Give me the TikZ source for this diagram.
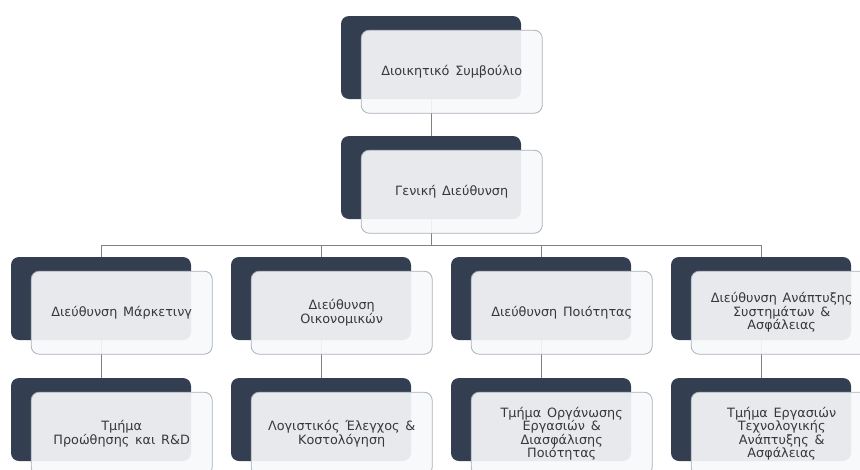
\documentclass[tikz,border=0pt]{standalone}
\usepackage{fontspec}
\setmainfont{DejaVu Sans}
\usepackage{tikz}
\usetikzlibrary{positioning}
\definecolor{navy}{RGB}{51,63,80}
\definecolor{pale}{RGB}{247,248,250}
\definecolor{rim}{RGB}{170,177,189}
\definecolor{ink}{RGB}{56,56,56}
\definecolor{wire}{RGB}{130,130,130}
\newcommand{\cardfont}{\fontsize{12.8}{13.5}\selectfont\spaceskip=0.45em\relax}
\tikzstyle{back}  = [fill=navy, rounded corners=8pt, minimum width=180pt, minimum height=83pt, inner sep=0pt]
\tikzstyle{card}  = [draw=rim, line width=0.8pt, fill=pale, fill opacity=0.92, text opacity=1, text=ink,
                     rounded corners=8pt, minimum width=181pt, minimum height=83pt, inner sep=0pt,
                     align=center, font=\cardfont]
\tikzstyle{link}  = [draw=wire, line width=0.8pt]

\begin{document}
\begin{tikzpicture}[x=1pt, y=-1pt]
\clip (0,0) rectangle (860,469);

% back boxes
\node [back] at (431, 57.5)  (board) {};
\node [back] at (431, 177.5) (gm)    {};
\node [back] at (101, 298.5) (mkt)   {};
\node [back] at (321, 298.5) (fin)   {};
\node [back] at (541, 298.5) (qa)    {};
\node [back] at (761, 298.5) (dev)   {};
\node [back] at (101, 419.5) (rd)    {};
\node [back] at (321, 419.5) (cost)  {};
\node [back] at (541, 419.5) (org)   {};
\node [back] at (761, 419.5) (tech)  {};
\coordinate (bus) at (431, 245);

% edges
\path [link] (board.south) -- (gm.north)
             (gm.south)    -- (bus)
             (mkt.north)   |- (bus)
             (fin.north)   |- (bus)
             (qa.north)    |- (bus)
             (dev.north)   |- (bus)
             (mkt.south)   -- (rd.north)
             (fin.south)   -- (cost.north)
             (qa.south)    -- (org.north)
             (dev.south)   -- (tech.north);

% cards
\node [card, below right=14pt and 20pt of board.north west] (boardc) {Διοικητικό Συμβούλιο};
\node [card, below right=14pt and 20pt of gm.north west]    (gmc)    {Γενική Διεύθυνση};
\node [card, below right=14pt and 20pt of mkt.north west]   (mktc)   {Διεύθυνση Μάρκετινγ};
\node [card, below right=14pt and 20pt of fin.north west]   (finc)   {Διεύθυνση\\Οικονομικών};
\node [card, below right=14pt and 20pt of qa.north west]    (qac)    {Διεύθυνση Ποιότητας};
\node [card, below right=14pt and 20pt of dev.north west]   (devc)   {Διεύθυνση Ανάπτυξης\\Συστημάτων \&\\Ασφάλειας};
\node [card, below right=14pt and 20pt of rd.north west]    (rdc)    {Τμήμα\\Προώθησης και R\&D};
\node [card, below right=14pt and 20pt of cost.north west]  (costc)  {Λογιστικός Έλεγχος \&\\Κοστολόγηση};
\node [card, below right=14pt and 20pt of org.north west]   (orgc)   {Τμήμα Οργάνωσης\\Εργασιών \&\\Διασφάλισης\\Ποιότητας};
\node [card, below right=14pt and 20pt of tech.north west]  (techc)  {Τμήμα Εργασιών\\Τεχνολογικής\\Ανάπτυξης \&\\Ασφάλειας};

\end{tikzpicture}
\end{document}
